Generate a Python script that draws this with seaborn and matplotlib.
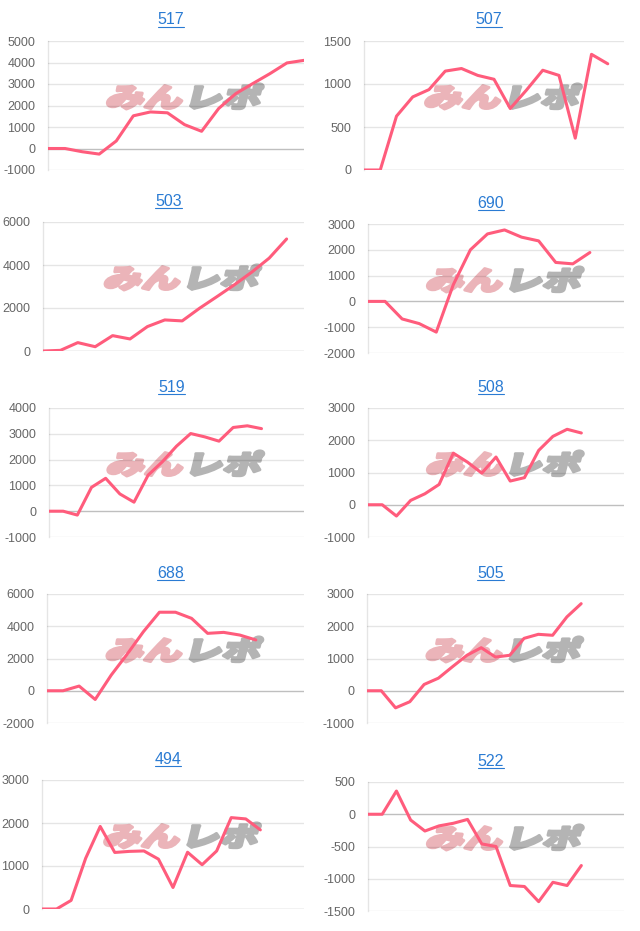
import numpy as np
import pandas as pd
import seaborn as sns
import matplotlib
matplotlib.use("Agg")
import matplotlib.pyplot as plt
from matplotlib.textpath import TextPath
from matplotlib.patches import PathPatch
from matplotlib.font_manager import FontProperties
from matplotlib.transforms import Affine2D, IdentityTransform
from matplotlib.lines import Line2D

# machine numbers and their running totals
titles = ["517", "507", "503", "690", "519", "508", "688", "505", "494", "522"]

m517 = [0, 0, -150, -260, 350, 1520, 1700, 1660, 1110, 800, 1860, 2550, 3020, 3480, 3980, 4100]
m507 = [0, 0, 626, 850, 935, 1150, 1180, 1100, 1055, 715, 930, 1160, 1100, 370, 1345, 1235]
m503 = [0, 30, 390, 200, 715, 560, 1135, 1445, 1400, 1990, 2530, 3080, 3670, 4320, 5210]
m690 = [0, 0, -680, -860, -1190, 650, 2000, 2615, 2770, 2490, 2345, 1510, 1455, 1895]
m519 = [0, 0, -150, 925, 1275, 670, 350, 1400, 1915, 2520, 3010, 2880, 2715, 3245, 3310, 3200]
m508 = [0, 0, -350, 135, 340, 630, 1600, 1320, 980, 1480, 735, 840, 1685, 2120, 2340, 2225]
m688 = [0, 0, 290, -540, 975, 2280, 3660, 4870, 4870, 4490, 3560, 3620, 3455, 3150]
m505 = [0, 0, -530, -340, 195, 390, 750, 1100, 1335, 1045, 1100, 1625, 1750, 1720, 2290, 2700]
m494 = [0, 0, 200, 1180, 1920, 1315, 1340, 1350, 1160, 500, 1320, 1030, 1350, 2125, 2095, 1840]
m522 = [0, 0, 360, -90, -260, -180, -140, -80, -460, -500, -1105, -1120, -1355, -1055, -1105, -795]

series = [m517, m507, m503, m690, m519, m508, m688, m505, m494, m522]
n_slots = [16, 17, 16, 16, 19, 19, 17, 19, 19, 19]
y_ranges = [(-1000, 5000, 1000), (0, 1500, 500), (0, 6000, 2000), (-2000, 3000, 1000),
            (-1000, 4000, 1000), (-1000, 3000, 1000), (-2000, 6000, 2000), (-1000, 3000, 1000),
            (0, 3000, 1000), (-1500, 500, 500)]

# pixel layout of each chart area
lefts = [48, 364, 43, 368, 49, 368, 47, 367, 42, 368]
rights = [304, 624] * 5
tops = [41, 41, 222, 224, 408, 408, 594, 594, 780, 782]
plot_h = 129

sns.set_style("white")
plt.rcParams['font.family'] = ['Liberation Sans', 'DejaVu Sans']

W, H = 640, 931
fig = plt.figure(figsize=(W / 100, H / 100), dpi=100)

line_color = "#ff5c7c"
grid_color = (0, 0, 0, 0.1)
zero_color = (0, 0, 0, 0.25)
pink_wm = "#ebb4b9"
gray_wm = "#b4b4b4"

# watermark glyphs
fp = FontProperties(family="Noto Sans CJK JP", weight="black")
p1 = TextPath((0, 0), "みん", size=1, prop=fp)
e1 = p1.get_extents()
p2 = TextPath((0, 0), "レポ", size=1, prop=fp)
p2 = p2.transformed(Affine2D().translate(e1.x1 + 0.08, 0))
e2 = p2.get_extents()
wm_x0, wm_x1 = e1.x0, e2.x1
wm_y0, wm_y1 = min(e1.y0, e2.y0), max(e1.y1, e2.y1)

title_texts = []
for i, name in enumerate(titles):
    L, R, T = lefts[i], rights[i], tops[i]
    ax = fig.add_axes([L / W, 1 - (T + plot_h) / H, (R - L) / W, plot_h / H])
    vals = series[i]
    df = pd.DataFrame({"x": np.arange(len(vals)), "y": vals})

    # watermark behind the line
    cx, cy = ax.transAxes.transform((0.535, 0.57))
    sx = 152 / (wm_x1 - wm_x0)
    sy = 25 / (wm_y1 - wm_y0)
    tr = (Affine2D()
          .translate(-(wm_x0 + wm_x1) / 2, -(wm_y0 + wm_y1) / 2)
          .scale(sx, sy)
          .skew_deg(14, 0)
          .translate(cx, cy))
    ax.add_artist(PathPatch(p1, transform=tr, facecolor=pink_wm, edgecolor=pink_wm,
                            lw=2.2, joinstyle="round", zorder=1))
    ax.add_artist(PathPatch(p2, transform=tr, facecolor=gray_wm, edgecolor=gray_wm,
                            lw=2.2, joinstyle="round", zorder=1))

    sns.lineplot(data=df, x="x", y="y", ax=ax, color=line_color, linewidth=2.2, zorder=3)

    lo, hi, step = y_ranges[i]
    ticks = np.arange(lo, hi + step, step)
    ax.set_ylim(lo, hi)
    ax.set_xlim(0, n_slots[i] - 1)
    ax.set_yticks(ticks)
    ax.set_yticklabels([str(int(t)) for t in ticks])
    ax.set_xticks([])
    ax.set_xlabel("")
    ax.set_ylabel("")
    for t in ticks:
        ax.axhline(t, color=zero_color if t == 0 else grid_color, lw=1, zorder=2)
    for s in ["top", "right", "bottom"]:
        ax.spines[s].set_visible(False)
    ax.spines["left"].set_color(grid_color)
    ax.spines["left"].set_linewidth(1)
    ax.tick_params(axis="y", length=7.2, width=0.8, color=grid_color, pad=2,
                   labelsize=9, labelcolor="#666666")
    ax.set_facecolor("white")

    t = fig.text(((L + R) / 2 - 5) / W, 1 - (T - 21) / H, name, ha="center", va="center",
                 fontsize=11.5, color="#2a7bd3")
    title_texts.append(t)

# underline the titles like links
fig.canvas.draw()
renderer = fig.canvas.get_renderer()
for t in title_texts:
    bb = t.get_window_extent(renderer)
    fig.add_artist(Line2D([bb.x0, bb.x1], [bb.y0 + 1, bb.y0 + 1], transform=IdentityTransform(),
                          color="#2a7bd3", lw=0.8))

fig.savefig("out.png", dpi=100)
